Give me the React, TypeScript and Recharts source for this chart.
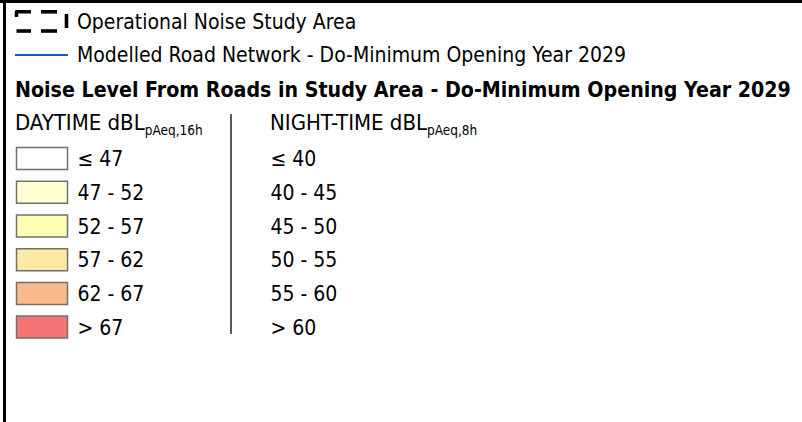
import React from "react";
import { ComposedChart, Bar, Cell, XAxis, YAxis, LabelList, Customized } from "recharts";

const dayLabels = ["≤ 47", "47 - 52", "52 - 57", "57 - 62", "62 - 67", "> 67"];
const nightLabels = ["≤ 40", "40 - 45", "45 - 50", "50 - 55", "55 - 60", "> 60"];
const classColors = ["#FFFFFF", "#FFFFD2", "#FFFFB4", "#FCE9A3", "#FBB98C", "#F77474"];
const swatchValues = [1, 1, 1, 1, 1, 1];

const title = "Noise Level From Roads in Study Area - Do-Minimum Opening Year 2029";
const studyAreaLabel = "Operational Noise Study Area";
const roadLabel = "Modelled Road Network - Do-Minimum Opening Year 2029";

const data = dayLabels.map((d, i) => ({
  day: d,
  night: nightLabels[i],
  color: classColors[i],
  swatch: swatchValues[i],
}));

const FONT = "'DejaVu Sans Condensed', 'DejaVu Sans', sans-serif";

const Header = () => (
  <g fontFamily={FONT} fill="#000">
    {/* frame */}
    <line x1={0} y1={1.5} x2={802} y2={1.5} stroke="#000" strokeWidth={3} />
    <line x1={4.5} y1={0} x2={4.5} y2={422} stroke="#000" strokeWidth={3} />
    {/* dashed study area symbol */}
    <g stroke="#000" strokeWidth={3.6} fill="none" strokeLinejoin="round">
      <path d="M16.5,17 L16.5,11.8 L31,11.8" />
      <path d="M16.5,31 L31,31" />
      <path d="M41,11.8 L57,11.8" />
      <path d="M41,31 L57,31" />
      <path d="M66.5,14 L66.5,28" />
    </g>
    <text x={77} y={29} fontSize={21}>{studyAreaLabel}</text>
    <line x1={15} y1={55} x2={68} y2={55} stroke="#1A5CB5" strokeWidth={2.2} />
    <text x={77} y={62} fontSize={21}>{roadLabel}</text>
    <text x={15} y={97} fontSize={21.2} fontWeight="bold">{title}</text>
    <text x={15} y={130} fontSize={22}>
      DAYTIME dBL<tspan fontSize={13.5} dy={5}>pAeq,16h</tspan>
    </text>
    <text x={270} y={130} fontSize={22}>
      NIGHT-TIME dBL<tspan fontSize={13.5} dy={5}>pAeq,8h</tspan>
    </text>
    <line x1={231} y1={114} x2={231} y2={334} stroke="#000" strokeWidth={1.3} />
  </g>
);

const DayLabel = (props: any) => {
  const { x, y, width, height, value } = props;
  return (
    <text x={x + width + 10} y={y + height / 2 + 7.5} fontSize={21} fontFamily={FONT} fill="#000">
      {value}
    </text>
  );
};

const NightLabel = (props: any) => {
  const { x, y, height, value } = props;
  return (
    <text x={x + 254} y={y + height / 2 + 7.5} fontSize={21} fontFamily={FONT} fill="#000">
      {value}
    </text>
  );
};

export default function App() {
  return (
    <div style={{ width: 802, height: 422, background: "#fff" }}>
      <style>{"body{margin:0;background:#fff}"}</style>
      <ComposedChart
        width={802}
        height={422}
        data={data}
        layout="vertical"
        margin={{ top: 141.6, right: 734.5, bottom: 78.2, left: 16.5 }}
      >
        <XAxis type="number" domain={[0, 1]} hide />
        <YAxis type="category" dataKey="day" hide />
        <Customized component={Header} />
        <Bar dataKey="swatch" barSize={22} isAnimationActive={false} stroke="#707070" strokeWidth={1.5}>
          {data.map((d, i) => (
            <Cell key={i} fill={d.color} />
          ))}
          <LabelList dataKey="day" content={DayLabel} />
          <LabelList dataKey="night" content={NightLabel} />
        </Bar>
      </ComposedChart>
    </div>
  );
}
